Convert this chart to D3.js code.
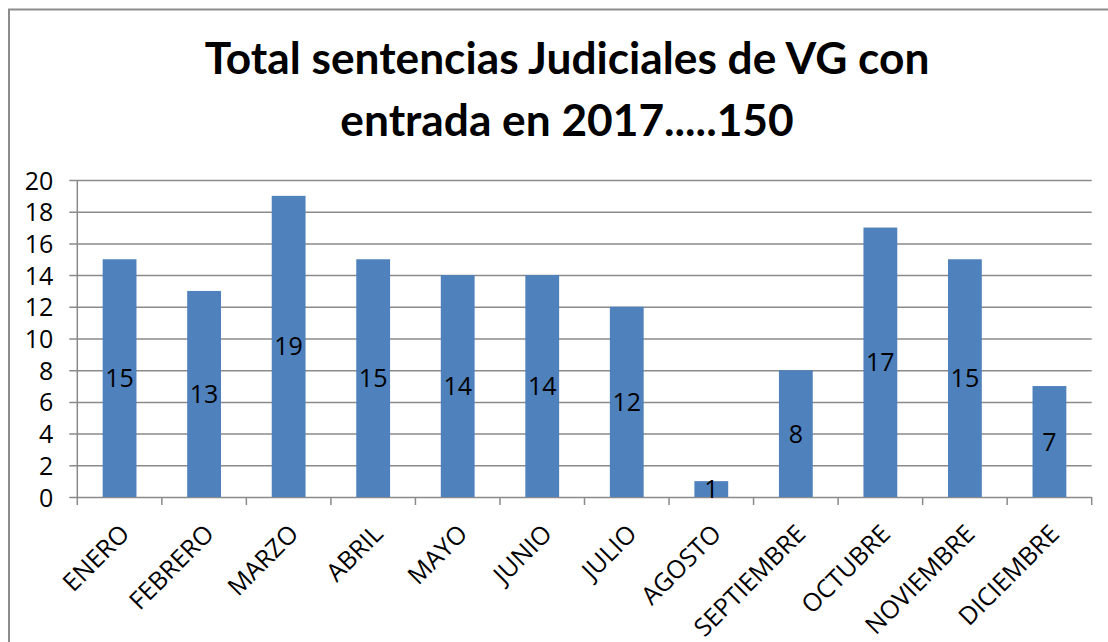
<!DOCTYPE html>
<html lang="es">
<head>
<meta charset="utf-8">
<script src="https://cdn.jsdelivr.net/npm/d3@7"></script>
<style>
  html, body { margin: 0; padding: 0; background: #ffffff; }
  svg { display: block; }
  text { font-family: "Open Sans", "Noto Sans", sans-serif; fill: #000; }
</style>
</head>
<body>
<svg id="chart" width="1108" height="642"></svg>
<script>
// Monthly counts of judicial sentences (VG) entered in 2017
const months = ["ENERO", "FEBRERO", "MARZO", "ABRIL", "MAYO", "JUNIO",
                "JULIO", "AGOSTO", "SEPTIEMBRE", "OCTUBRE", "NOVIEMBRE", "DICIEMBRE"];
const sentencias = [15, 13, 19, 15, 14, 14, 12, 1, 8, 17, 15, 7];
const yTicks = [0, 2, 4, 6, 8, 10, 12, 14, 16, 18, 20];
const titleLines = ["Total sentencias Judiciales de VG con", "entrada en 2017.....150"];

const svg = d3.select("#chart");
const W = 1108, H = 642;
const plot = { left: 77.3, right: 1091.7, top: 180, bottom: 497 };
const gridColor = "#8a8a8a";
const barColor = "#4f81bd";
const labelFont = "'Open Sans', 'Noto Sans', sans-serif";
const labelSize = "25px";

// Outer chart frame (runs off the right and bottom edges)
svg.append("rect")
  .attr("x", 9).attr("y", 9.5)
  .attr("width", W + 20).attr("height", H + 20)
  .attr("fill", "none")
  .attr("stroke", "#8c8c8c")
  .attr("stroke-width", 2);

// Title, two centred bold lines
const title = svg.append("g").attr("class", "title");
const titleLine1 = title.append("text")
  .attr("x", 567).attr("y", 74)
  .attr("text-anchor", "middle")
  .style("font-family", "Lato, 'Open Sans', sans-serif")
  .style("font-weight", "bold")
  .style("font-size", "42px")
  .text(titleLines[0]);
// fit the first line to its width and use the same size for the second
const len1 = titleLine1.node().getComputedTextLength();
const titleSize = 42 * 725 / len1;
titleLine1.style("font-size", titleSize + "px");
title.append("text")
  .attr("x", 567).attr("y", 136)
  .attr("text-anchor", "middle")
  .style("font-family", "Lato, 'Open Sans', sans-serif")
  .style("font-weight", "bold")
  .style("font-size", titleSize + "px")
  .text(titleLines[1]);

// Scales
const x = d3.scaleBand()
  .domain(months)
  .range([plot.left, plot.right])
  .paddingInner(0.6)
  .paddingOuter(0.3);
const xEdges = d3.scaleLinear()
  .domain([0, months.length])
  .range([plot.left, plot.right]);
const y = d3.scaleLinear()
  .domain([0, 20])
  .range([plot.bottom, plot.top]);

// Horizontal gridlines with short outer ticks
const yAxis = d3.axisLeft(y)
  .tickValues(yTicks)
  .tickSize(-(plot.right - plot.left))
  .tickSizeOuter(0)
  .tickPadding(0)
  .tickFormat(d3.format("d"));
const gy = svg.append("g")
  .attr("transform", `translate(${plot.left},0)`)
  .call(yAxis);
gy.select(".domain").remove();
gy.selectAll(".tick line")
  .attr("x1", -8)
  .attr("stroke", gridColor)
  .attr("stroke-width", 1.5);
gy.selectAll(".tick text")
  .attr("x", -24)
  .attr("dy", "0.36em")
  .attr("text-anchor", "end")
  .style("font-size", labelSize)
  .style("font-family", labelFont)
  .attr("fill", "#000");

// Vertical value axis line
svg.append("line")
  .attr("x1", plot.left).attr("x2", plot.left)
  .attr("y1", plot.top).attr("y2", plot.bottom)
  .attr("stroke", gridColor).attr("stroke-width", 1.5);

// Category axis: tick marks on band edges
const edges = d3.range(months.length + 1);
svg.append("g").selectAll("line")
  .data(edges)
  .join("line")
  .attr("x1", d => xEdges(d)).attr("x2", d => xEdges(d))
  .attr("y1", plot.bottom).attr("y2", plot.bottom + 8)
  .attr("stroke", gridColor).attr("stroke-width", 1.5);

// Bars
svg.append("g").selectAll("rect")
  .data(sentencias)
  .join("rect")
  .attr("x", (d, i) => x(months[i]))
  .attr("width", x.bandwidth())
  .attr("y", d => y(d))
  .attr("height", d => y(0) - y(d))
  .attr("fill", barColor);

// Value labels centred inside each bar
svg.append("g").selectAll("text")
  .data(sentencias)
  .join("text")
  .attr("x", (d, i) => x(months[i]) + x.bandwidth() / 2)
  .attr("y", d => y(d / 2))
  .attr("dy", "0.36em")
  .attr("text-anchor", "middle")
  .style("font-size", labelSize)
  .style("font-family", labelFont)
  .text(d => d);

// Rotated month labels
svg.append("g").selectAll("text")
  .data(months)
  .join("text")
  .attr("transform", d => {
    const cx = x(d) + x.bandwidth() / 2;
    return `translate(${cx + 5},${plot.bottom + 32}) rotate(-45)`;
  })
  .attr("dy", "0.36em")
  .attr("text-anchor", "end")
  .style("font-size", labelSize)
  .style("font-family", labelFont)
  .text(d => d);
</script>
</body>
</html>
